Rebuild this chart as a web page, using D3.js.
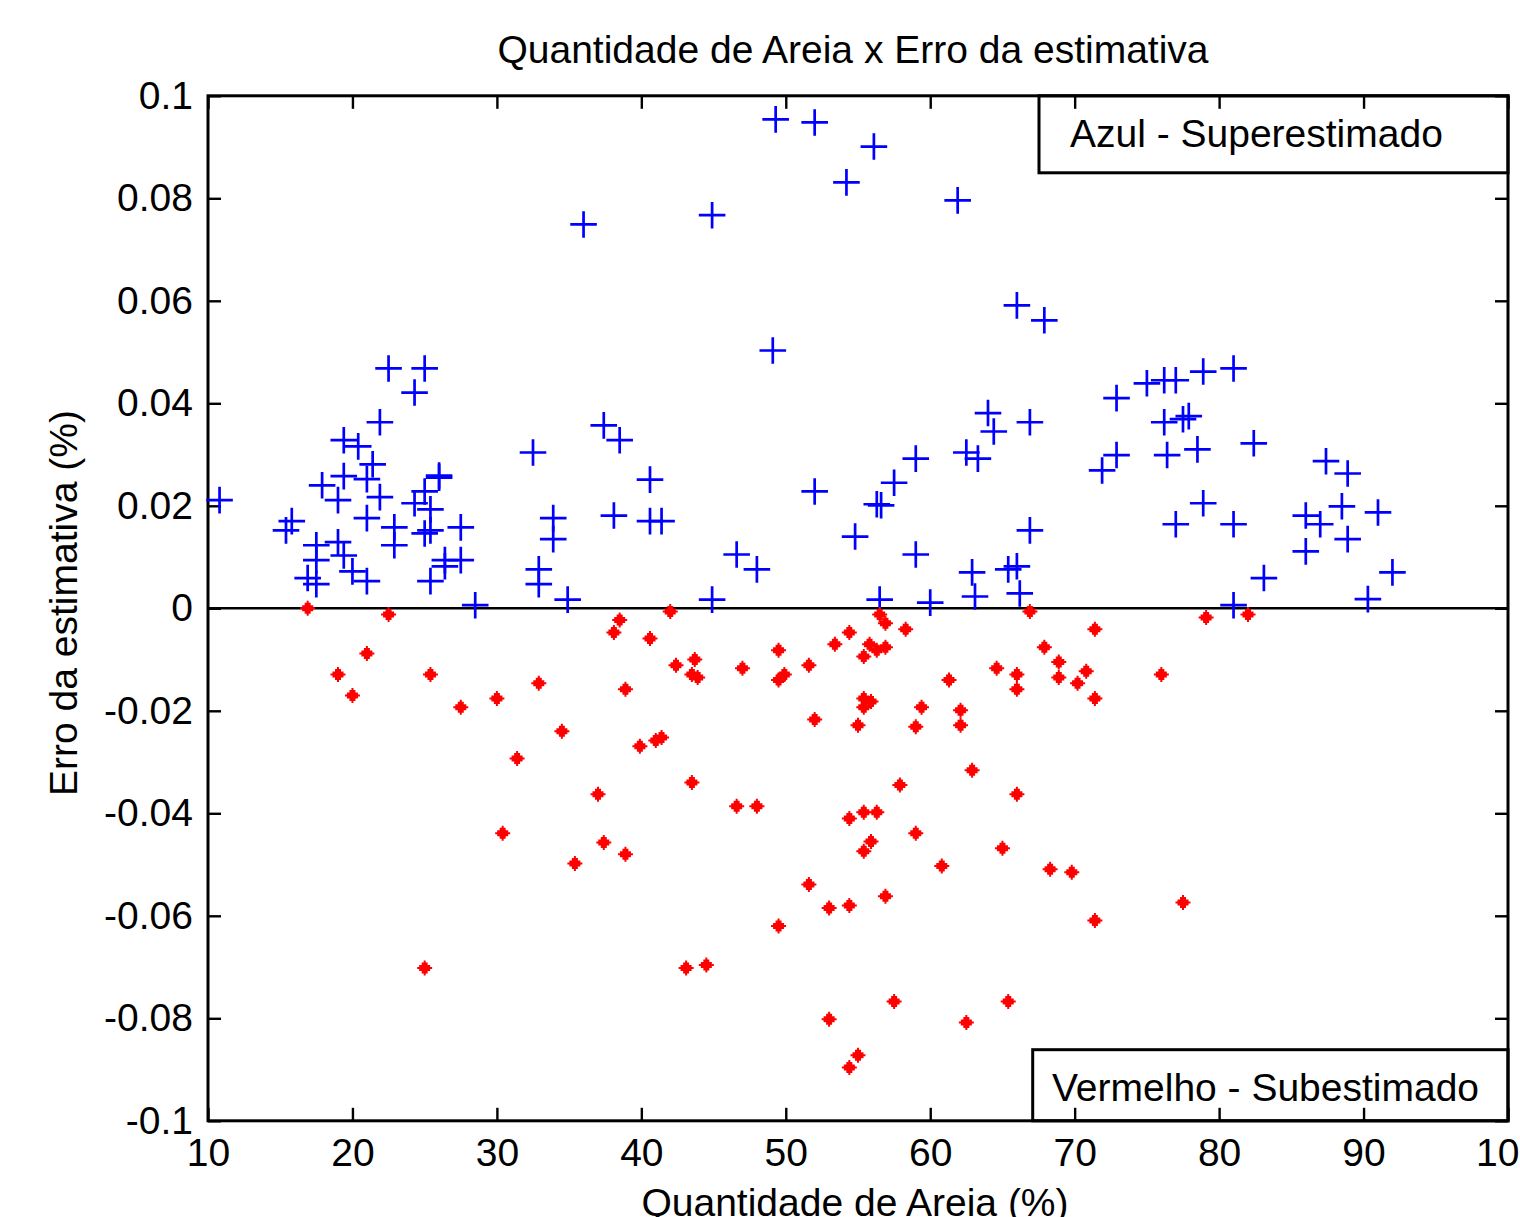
<!DOCTYPE html>
<html>
<head>
<meta charset="utf-8">
<script src="https://cdn.jsdelivr.net/npm/d3@7"></script>
<style>
  body { margin: 0; background: #fff; }
  svg { display: block; font-family: "Liberation Sans", Arial, sans-serif; }
  .axis text { font-size: 39px; fill: #000; }
  .axis line { stroke: #000; stroke-width: 2.4px; }
  .axis path { display: none; }
</style>
</head>
<body>
<div id="chart"></div>
<script>
// Superestimado (blue +)
var blueX = [10.8, 22.5, 25.0, 24.3, 21.9, 19.4, 20.4, 21.4, 19.4, 21.0, 26.0, 26.0, 25.0, 17.9, 19.0,
  21.9, 24.3, 25.4, 15.8, 15.4, 21.0, 22.9, 27.5, 25.0, 25.4, 17.5, 19.0, 22.9, 17.5, 19.4,
  20.0, 21.0, 26.4, 27.5, 26.4, 16.9, 17.5, 25.4, 28.5, 32.5, 32.9, 32.9, 33.9, 33.9, 34.9,
  36.0, 37.4, 38.5, 38.1, 40.6, 40.6, 41.4, 44.9, 44.9, 46.6, 48.0, 49.1, 49.3, 52.0, 52.0,
  54.2, 54.8, 56.1, 56.3, 56.6, 56.5, 57.5, 59.0, 59.0, 60.0, 61.9, 62.5, 63.3, 62.9, 63.1,
  64.0, 64.4, 65.4, 66.0, 66.2, 66.0, 67.9, 66.9, 66.9, 71.9, 72.9, 72.9, 75.0, 76.2, 77.0,
  76.2, 77.5, 77.9, 76.4, 78.5, 78.9, 81.0, 82.4, 78.9, 77.0, 81.0, 83.1, 81.0, 87.4, 88.9,
  88.5, 86.0, 87.0, 91.0, 88.9, 86.0, 92.0, 90.3];
var blueY = [0.0211, 0.0468, 0.0468, 0.0421, 0.0363, 0.0328, 0.0316, 0.0281, 0.0258, 0.0252, 0.0255, 0.0259, 0.0228, 0.0240, 0.0211,
  0.0217, 0.0205, 0.0193, 0.0170, 0.0152, 0.0176, 0.0158, 0.0158, 0.0146, 0.0152, 0.0123, 0.0129, 0.0123, 0.0094, 0.0103,
  0.0072, 0.0053, 0.0094, 0.0094, 0.0082, 0.0059, 0.0047, 0.0053, 0.0006, 0.0304, 0.0076, 0.0047, 0.0176, 0.0135, 0.0017,
  0.0749, 0.0357, 0.0328, 0.0181, 0.0251, 0.0170, 0.0170, 0.0767, 0.0017, 0.0105, 0.0076, 0.0503, 0.0954, 0.0948, 0.0228,
  0.0831, 0.0140, 0.0901, 0.0203, 0.0201, 0.0017, 0.0245, 0.0292, 0.0105, 0.0011, 0.0796, 0.0304, 0.0292, 0.0070, 0.0023,
  0.0381, 0.0345, 0.0076, 0.0082, 0.0029, 0.0591, 0.0562, 0.0363, 0.0152, 0.0269, 0.0299, 0.0410, 0.0439, 0.0445, 0.0445,
  0.0363, 0.0369, 0.0375, 0.0299, 0.0310, 0.0462, 0.0468, 0.0322, 0.0205, 0.0164, 0.0164, 0.0059, 0.0006, 0.0287, 0.0263,
  0.0199, 0.0181, 0.0164, 0.0187, 0.0135, 0.0111, 0.0070, 0.0018];

// Subestimado (red *)
var redX = [16.9, 22.5, 21.0, 19.0, 25.4, 20.0, 27.5, 30.0, 32.9, 38.5, 38.1, 40.6, 42.0, 43.7, 42.4,
  43.5, 43.9, 38.9, 34.5, 39.9, 41.0, 41.4, 31.4, 43.5, 37.0, 30.4, 37.4, 38.9, 35.4, 25.0,
  43.1, 44.5, 56.5, 56.9, 54.4, 58.3, 53.4, 49.5, 55.8, 56.9, 56.3, 55.4, 47.0, 51.6, 49.5,
  49.9, 64.6, 61.3, 55.4, 55.9, 55.4, 59.4, 62.1, 52.0, 55.0, 59.0, 62.1, 62.9, 57.9, 46.6,
  48.0, 54.4, 55.4, 56.3, 59.0, 55.9, 55.4, 60.8, 51.6, 56.9, 54.4, 53.0, 49.5, 57.5, 53.0,
  62.5, 55.0, 54.4, 66.9, 79.1, 82.0, 71.4, 67.9, 68.9, 66.0, 70.8, 76.0, 68.9, 70.2, 66.0,
  71.4, 66.0, 65.0, 68.3, 69.8, 77.5, 71.4, 65.4];
var redY = [0.0000, -0.0012, -0.0088, -0.0129, -0.0129, -0.0170, -0.0193, -0.0176, -0.0146, -0.0023, -0.0047, -0.0059, -0.0006, -0.0100, -0.0111,
  -0.0129, -0.0135, -0.0158, -0.0240, -0.0269, -0.0258, -0.0252, -0.0293, -0.0340, -0.0363, -0.0439, -0.0457, -0.0480, -0.0498, -0.0702,
  -0.0702, -0.0696, -0.0012, -0.0029, -0.0047, -0.0041, -0.0070, -0.0082, -0.0070, -0.0076, -0.0082, -0.0094, -0.0117, -0.0111, -0.0140,
  -0.0129, -0.0117, -0.0140, -0.0176, -0.0182, -0.0193, -0.0193, -0.0199, -0.0217, -0.0228, -0.0231, -0.0228, -0.0316, -0.0345, -0.0386,
  -0.0386, -0.0410, -0.0398, -0.0398, -0.0439, -0.0455, -0.0474, -0.0503, -0.0539, -0.0562, -0.0580, -0.0585, -0.0620, -0.0767, -0.0802,
  -0.0808, -0.0872, -0.0896, -0.0006, -0.0018, -0.0012, -0.0041, -0.0076, -0.0105, -0.0129, -0.0123, -0.0129, -0.0135, -0.0146, -0.0158,
  -0.0176, -0.0363, -0.0468, -0.0509, -0.0515, -0.0574, -0.0609, -0.0767];

var xTicks = [10, 20, 30, 40, 50, 60, 70, 80, 90, 100];
var xTickLabels = ['10', '20', '30', '40', '50', '60', '70', '80', '90', '100'];
var yTicks = [-0.1, -0.08, -0.06, -0.04, -0.02, 0, 0.02, 0.04, 0.06, 0.08, 0.1];
var yTickLabels = ['-0.1', '-0.08', '-0.06', '-0.04', '-0.02', '0', '0.02', '0.04', '0.06', '0.08', '0.1'];

var margin = {top: 95.8, right: 12, bottom: 96.2, left: 208},
    width = 1520 - margin.left - margin.right,
    height = 1217 - margin.top - margin.bottom;

var x = d3.scaleLinear().domain([10, 100]).range([0, width]);
var y = d3.scaleLinear().domain([-0.1, 0.1]).range([height, 0]);

var svg = d3.select('#chart')
    .append('svg')
        .attr('width', 1520)
        .attr('height', 1217)
    .append('g')
        .attr('transform', 'translate(' + margin.left + ',' + margin.top + ')');

// ticks on all four sides, pointing inward
svg.append('g')
    .attr('class', 'x axis')
    .attr('transform', 'translate(0,' + height + ')')
    .call(d3.axisBottom(x).tickValues(xTicks).tickSizeInner(-13).tickSizeOuter(0).tickPadding(18)
        .tickFormat(function(d, i) { return xTickLabels[i]; }));
svg.append('g')
    .attr('class', 'x axis')
    .call(d3.axisTop(x).tickValues(xTicks).tickSizeInner(-13).tickSizeOuter(0).tickFormat(''));
svg.append('g')
    .attr('class', 'y axis')
    .call(d3.axisLeft(y).tickValues(yTicks).tickSizeInner(-13).tickSizeOuter(0).tickPadding(15)
        .tickFormat(function(d, i) { return yTickLabels[i]; }));
svg.append('g')
    .attr('class', 'y axis')
    .attr('transform', 'translate(' + width + ',0)')
    .call(d3.axisRight(y).tickValues(yTicks).tickSizeInner(-13).tickSizeOuter(0).tickFormat(''));

svg.append('rect')
    .attr('width', width)
    .attr('height', height)
    .attr('fill', 'none')
    .attr('stroke', '#000')
    .attr('stroke-width', 3);

// zero line
svg.append('line')
    .attr('x1', 0).attr('x2', width)
    .attr('y1', y(0)).attr('y2', y(0))
    .attr('stroke', '#000')
    .attr('stroke-width', 2.6);

var blue = blueX.map(function(d, i) { return {x: d, y: blueY[i]}; });
var red = redX.map(function(d, i) { return {x: d, y: redY[i]}; });

svg.append('g').selectAll('path')
    .data(blue)
    .enter().append('path')
        .attr('transform', function(d) { return 'translate(' + x(d.x) + ',' + y(d.y) + ')'; })
        .attr('d', 'M-13.3,0H13.3M0,-13.3V13.3')
        .attr('stroke', '#0000ff')
        .attr('stroke-width', 2.7)
        .attr('fill', 'none');

var star = 'M-1,-7.5H1V-5.5H3V-3H5.5V-1H7.5V1H5.5V3H3V5.5H1V7.5H-1V5.5H-3V3H-5.5V1H-7.5V-1H-5.5V-3H-3V-5.5H-1Z';
svg.append('g').selectAll('path')
    .data(red)
    .enter().append('path')
        .attr('transform', function(d) { return 'translate(' + x(d.x) + ',' + y(d.y) + ')'; })
        .attr('d', star)
        .attr('fill', '#ff0000');

// annotation boxes
var page = d3.select('#chart svg');
page.append('rect')
    .attr('x', 1039).attr('y', 95.8)
    .attr('width', 469).attr('height', 77)
    .attr('fill', 'none').attr('stroke', '#000').attr('stroke-width', 3);
page.append('text')
    .attr('x', 1070).attr('y', 147)
    .attr('font-size', 39)
    .text('Azul - Superestimado');

page.append('rect')
    .attr('x', 1032.7).attr('y', 1049.7)
    .attr('width', 475.3).attr('height', 71.1)
    .attr('fill', 'none').attr('stroke', '#000').attr('stroke-width', 3);
page.append('text')
    .attr('x', 1052).attr('y', 1101)
    .attr('font-size', 39)
    .text('Vermelho - Subestimado');

// title and axis labels
page.append('text')
    .attr('x', 853).attr('y', 63)
    .attr('text-anchor', 'middle')
    .attr('font-size', 39)
    .text('Quantidade de Areia x Erro da estimativa');
page.append('text')
    .attr('x', 855).attr('y', 1216)
    .attr('text-anchor', 'middle')
    .attr('font-size', 39)
    .text('Quantidade de Areia (%)');
page.append('text')
    .attr('transform', 'translate(77,603) rotate(-90)')
    .attr('text-anchor', 'middle')
    .attr('font-size', 39)
    .text('Erro da estimativa (%)');
</script>
</body>
</html>
